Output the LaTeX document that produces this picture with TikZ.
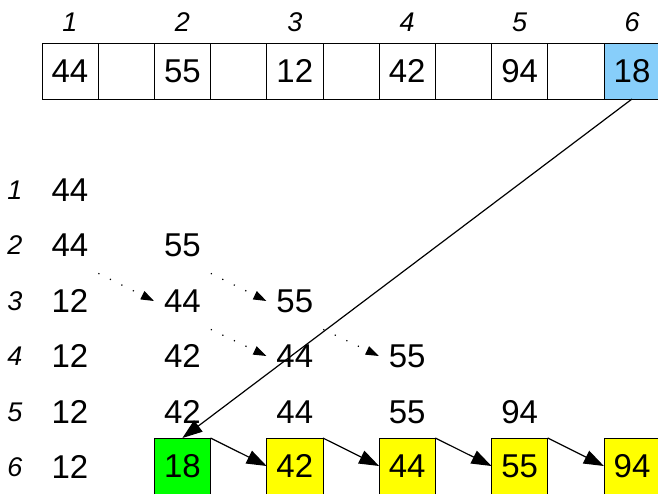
\documentclass[tikz,border=0pt]{standalone}
\usepackage{fontspec}
\setmainfont{Liberation Sans}
\usetikzlibrary{positioning, arrows.meta}
\definecolor{pickblue}{RGB}{135,206,250}
\definecolor{newgreen}{RGB}{0,255,0}
\definecolor{moveyellow}{RGB}{255,255,0}

\begin{document}
\begin{tikzpicture}[
  x=0.5pt, y=-0.5pt,
  cellb/.style={draw, thin, minimum width=28.1pt, minimum height=28pt,
                inner sep=0pt, outer sep=0pt, font=\fontsize{16.5}{18}\selectfont},
  valb/.style={minimum width=28pt, minimum height=28pt, inner sep=0pt,
               font=\fontsize{16.5}{18}\selectfont},
  idx/.style={font=\fontsize{13.5}{15}\selectfont\itshape},
  arr/.style={-{Triangle[length=10pt, width=7pt]}, semithick},
  moved/.style={-{Triangle[length=6.5pt, width=4.5pt]}, line width=0.6pt,
                dash pattern=on 0.6pt off 5.8pt},
]
\useasboundingbox (0,0) rectangle (658,493);

% Top: input array, every value followed by an empty cell
\node[cellb] (a1) at (70,71) {44};
\node[cellb, right=0pt of a1] (g1) {};
\node[cellb, right=0pt of g1] (a2) {55};
\node[cellb, right=0pt of a2] (g2) {};
\node[cellb, right=0pt of g2] (a3) {12};
\node[cellb, right=0pt of a3] (g3) {};
\node[cellb, right=0pt of g3] (a4) {42};
\node[cellb, right=0pt of a4] (g4) {};
\node[cellb, right=0pt of g4] (a5) {94};
\node[cellb, right=0pt of a5] (g5) {};
\node[cellb, fill=pickblue, right=0pt of g5] (a6) {18};

% Index labels over the array
\node[idx] (i1) at (70,22) {1};
\node[idx] (i2) at (182.4,22) {2};
\node[idx] (i3) at (294.8,22) {3};
\node[idx] (i4) at (407.2,22) {4};
\node[idx] (i5) at (519.6,22) {5};
\node[idx] (i6) at (632,22) {6};

% Step labels
\node[idx] (s1) at (15,190) {1};
\node[idx] (s2) at (15,245) {2};
\node[idx] (s3) at (15,301) {3};
\node[idx] (s4) at (15,356) {4};
\node[idx] (s5) at (15,412) {5};
\node[idx] (s6) at (15,467) {6};

% Step 1
\node[valb] (r1c1) at (70,190) {44};

% Step 2
\node[valb] (r2c1) at (70,245) {44};
\node[valb] (r2c2) at (182.4,245) {55};

% Step 3
\node[valb] (r3c1) at (70,301) {12};
\node[valb] (r3c2) at (182.4,301) {44};
\node[valb] (r3c3) at (294.8,301) {55};

% Step 4
\node[valb] (r4c1) at (70,356) {12};
\node[valb] (r4c2) at (182.4,356) {42};
\node[valb] (r4c3) at (294.8,356) {44};
\node[valb] (r4c4) at (407.2,356) {55};

% Step 5
\node[valb] (r5c1) at (70,412) {12};
\node[valb] (r5c2) at (182.4,412) {42};
\node[valb] (r5c3) at (294.8,412) {44};
\node[valb] (r5c4) at (407.2,412) {55};
\node[valb] (r5c5) at (519.6,412) {94};

% Step 6: inserted value and shifted values
\node[valb] (r6c1) at (70,467) {12};
\node[cellb, fill=newgreen] (r6c2) at (182.4,466) {18};
\node[cellb, fill=moveyellow] (r6c3) at (294.8,466) {42};
\node[cellb, fill=moveyellow] (r6c4) at (407.2,466) {44};
\node[cellb, fill=moveyellow] (r6c5) at (519.6,466) {55};
\node[cellb, fill=moveyellow] (r6c6) at (632,466) {94};

% Arrows
\draw[moved] (r2c1.south east) -- (r3c2.west);
\draw[moved] (r2c2.south east) -- (r3c3.west);
\draw[moved] (r3c2.south east) -- (r4c3.west);
\draw[moved] (r3c3.south east) -- (r4c4.west);
\draw[arr] (a6.south) -- (r6c2.north);
\draw[arr] (r6c2.north east) -- (r6c3.west);
\draw[arr] (r6c3.north east) -- (r6c4.west);
\draw[arr] (r6c4.north east) -- (r6c5.west);
\draw[arr] (r6c5.north east) -- (r6c6.west);
\end{tikzpicture}
\end{document}
